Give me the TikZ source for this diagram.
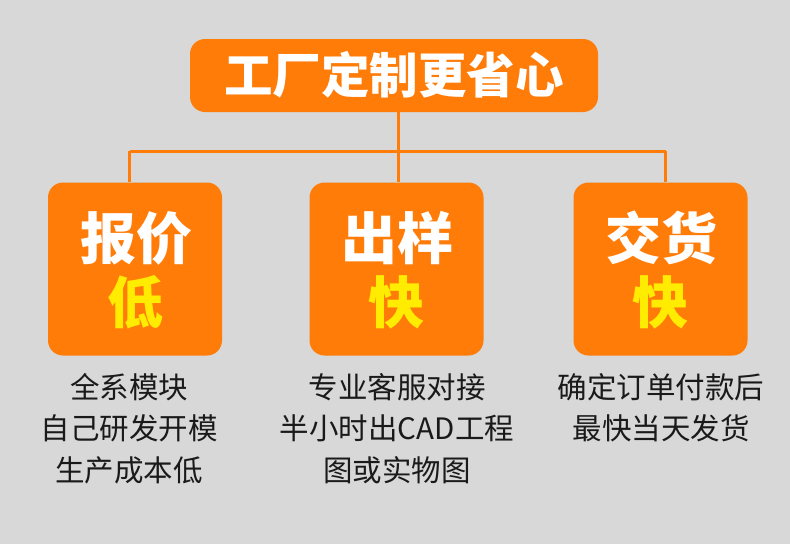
\documentclass[tikz,border=0pt]{standalone}
\usepackage{fontspec}
\setmainfont{Noto Sans CJK SC}
\usetikzlibrary{calc}
\definecolor{bg}{RGB}{216,216,216}
\definecolor{org}{RGB}{255,124,8}
\definecolor{ylw}{RGB}{255,236,0}
\definecolor{txt}{RGB}{26,26,26}
\begin{document}
\begin{tikzpicture}[x=1pt,y=-1pt,
  boxstyle/.style={fill=org,rounded corners=15pt,inner sep=0pt},
  bigtxt/.style={text=white,font=\fontsize{56}{60}\selectfont\bfseries,inner sep=0pt},
  hightxt/.style={text=ylw,font=\fontsize{56}{60}\selectfont\bfseries,inner sep=0pt},
  desc/.style={text=txt,font=\fontsize{29.5}{41.5}\selectfont,align=center,inner sep=0pt,anchor=north},
  conn/.style={draw=org,line width=3pt}]
\fill[bg] (0,0) rectangle (790,544);
\useasboundingbox (0,0) rectangle (790,544);
% top
\node[boxstyle,minimum width=408pt,minimum height=73pt] (top) at (394,75.5) {};
\node[text=white,font=\fontsize{48.5}{52}\selectfont\bfseries,inner sep=0pt] (toptxt) at (394,75) {工厂定制更省心};
% boxes
\node[boxstyle,minimum width=174pt,minimum height=173pt] (b1) at (135,269) {};
\node[boxstyle,minimum width=174pt,minimum height=173pt] (b2) at (396.5,269) {};
\node[boxstyle,minimum width=174pt,minimum height=173pt] (b3) at (660.5,269) {};
% connectors
\coordinate (j1) at (129.5,151);
\coordinate (j2) at (398.5,151);
\coordinate (j3) at (665.5,151);
\draw[conn] (top.south -| j2) -- (j2);
\draw[conn] (j1) -- (j3);
\draw[conn] (j1) -- (j1 |- b1.north);
\draw[conn] (j2) -- (j2 |- b2.north);
\draw[conn] (j3) -- (j3 |- b3.north);
% box texts
\node[bigtxt] (t1a) at (136,238) {报价};
\node[hightxt] (t1b) at (135,302) {低};
\node[bigtxt] (t2a) at (397,238) {出样};
\node[hightxt] (t2b) at (396.5,302) {快};
\node[bigtxt] (t3a) at (661,238) {交货};
\node[hightxt] (t3b) at (660.5,302) {快};
% descriptions
\node[desc] (d1) at (129,373) {全系模块\\自己研发开模\\生产成本低};
\node[desc] (d2) at (397,373) {专业客服对接\\半小时出CAD工程\\图或实物图};
\node[desc] (d3) at (661,373) {确定订单付款后\\最快当天发货};
\end{tikzpicture}
\end{document}
